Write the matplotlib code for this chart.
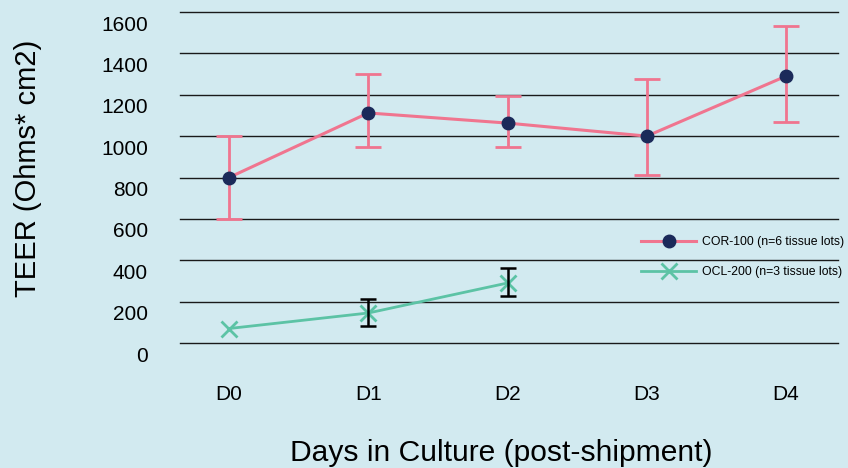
import matplotlib
matplotlib.use('Agg')
import matplotlib.pyplot as plt
import matplotlib.transforms as mtransforms

days = ["D0", "D1", "D2", "D3", "D4"]

cor_label = "COR-100 (n=6 tissue lots)"
cor_mean = [800, 1112, 1063, 1000, 1290]
cor_low = [600, 947, 947, 812, 1068]
cor_high = [1000, 1300, 1194, 1278, 1532]

ocl_label = "OCL-200 (n=3 tissue lots)"
ocl_days = [0, 1, 2]
ocl_mean = [70, 145, 290]
ocl_low = [70, 82, 227]
ocl_high = [70, 213, 363]

bg = '#d2eaf0'
pink = '#f0758f'
navy = '#1b2a5a'
teal = '#5cc3a5'

plt.rcParams['font.family'] = ['Liberation Sans', 'DejaVu Sans']

fig = plt.figure(figsize=(8.48, 4.68), dpi=100, facecolor=bg)
ax = fig.add_axes([180/848, 1 - 343/468, 658/848, 331/468])
ax.set_facecolor(bg)

x = list(range(len(days)))
cor_err = [[m - l for m, l in zip(cor_mean, cor_low)],
           [h - m for m, h in zip(cor_mean, cor_high)]]
ax.errorbar(x, cor_mean, yerr=cor_err, fmt='none', ecolor=pink, elinewidth=2,
            capsize=9.5, capthick=2, zorder=3)
ax.plot(x, cor_mean, color=pink, lw=2.2, marker='o', markersize=9,
        markerfacecolor=navy, markeredgecolor=navy, label=cor_label, zorder=4)

ocl_err = [[m - l for m, l in zip(ocl_mean, ocl_low)],
           [h - m for m, h in zip(ocl_mean, ocl_high)]]
ax.plot(ocl_days, ocl_mean, color=teal, lw=2, marker='x', markersize=11,
        markeredgewidth=2, label=ocl_label, zorder=3)
ax.errorbar(ocl_days[1:], ocl_mean[1:], yerr=[ocl_err[0][1:], ocl_err[1][1:]],
            fmt='none', ecolor='black', elinewidth=1.8, capsize=6, capthick=1.8,
            zorder=4)

ax.set_ylim(0, 1600)
ax.set_yticks(range(0, 1601, 200))
ax.set_xlim(-0.352, 4.373)
ax.set_xticks(x)
ax.set_xticklabels(days)
ax.grid(axis='y', color='#1a1a1a', lw=1)
for gl in ax.get_ygridlines():
    gl.set_clip_on(False)
ax.set_axisbelow(True)
for s in ax.spines.values():
    s.set_visible(False)
ax.tick_params(axis='y', length=0, pad=23, labelsize=15)
ax.tick_params(axis='x', length=0, pad=30, labelsize=15)

# y labels sit a little below their grid lines
offset = mtransforms.ScaledTranslation(0, -8/72, fig.dpi_scale_trans)
for lbl in ax.get_yticklabels():
    lbl.set_transform(lbl.get_transform() + offset)

fig.text(28/848, 1 - 168/468, "TEER (Ohms* cm2)", rotation=90, fontsize=21,
         ha='center', va='center')
fig.text(501/848, 1 - 453/468, "Days in Culture (post-shipment)", fontsize=21.6,
         ha='center', va='center')

ax.legend(loc='center left', bbox_to_anchor=(630/848, 1 - 257/468),
          bbox_transform=fig.transFigure, frameon=False, fontsize=8.8,
          handlelength=4.5, labelspacing=1.45, handletextpad=0.5)

fig.savefig('out.png', dpi=100, facecolor=bg)
